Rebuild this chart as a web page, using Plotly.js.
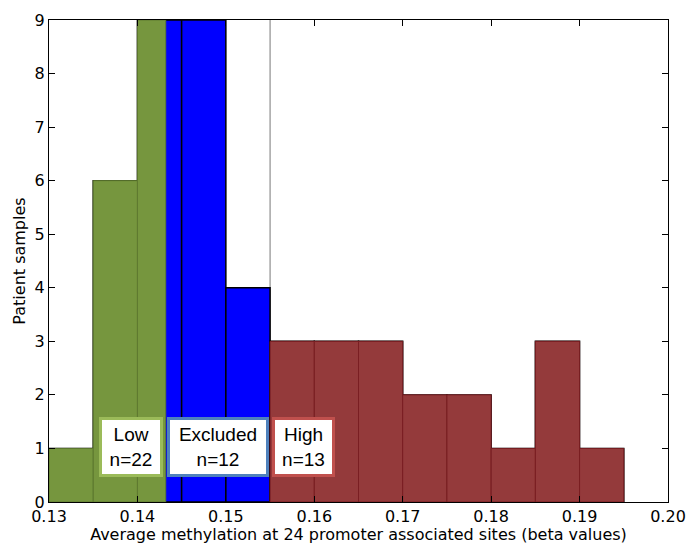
<!DOCTYPE html>
<html><head><meta charset="utf-8">
<script src="https://cdn.plot.ly/plotly-3.0.1.min.js"></script>
<style>body{margin:0;padding:0;background:#fff}#chart{width:688px;height:544px}</style>
</head><body><div id="chart"></div>
<script>
// Histogram bins (left edges) and counts
var binLeft = [0.130,0.135,0.140,0.145,0.150,0.155,0.160,0.165,0.170,0.175,0.180,0.185,0.190];
var counts  = [1,6,9,9,4,3,3,3,2,2,1,3,1];
var binWidth = 0.005;
// Group thresholds
var lowCut = 0.1432;
var highCut = 0.155;
// Group labels
var groupNames = ["Low","Excluded","High"];
var groupN = [22,12,13];
var labelX = [0.1393,0.1491,0.1588];
var labelY = 1.03;

function clipped(lo, hi){
  var xs=[],ws=[],ys=[];
  for(var i=0;i<binLeft.length;i++){
    var a=Math.max(binLeft[i],lo), b=Math.min(binLeft[i]+binWidth,hi);
    if(b-a>1e-9){xs.push((a+b)/2);ws.push(b-a);ys.push(counts[i]);}
  }
  return {x:xs,w:ws,y:ys};
}
var all = clipped(0,1);
var low = clipped(0,lowCut);
var high = clipped(highCut,1);

var traces = [
  {type:'bar',x:all.x,y:all.y,width:all.w,marker:{color:'#0000ff',line:{color:'#000000',width:1.5}},hoverinfo:'skip'},
  {type:'bar',x:low.x,y:low.y,width:low.w,marker:{color:'#76963e',line:{color:'#5e7a30',width:1}},hoverinfo:'skip'},
  {type:'bar',x:high.x,y:high.y,width:high.w,marker:{color:'#943a3b',line:{color:'#7a1e22',width:1}},hoverinfo:'skip'}
];

var borderCols = ['#9bbb59','#4f81bd','#c0504d'];
var boxW = [50,88,49];
var annotations = groupNames.map(function(g,i){
  return {x:labelX[i],y:labelY,xref:'x',yref:'y',text:g+'<br>n='+groupN[i],showarrow:false,
    font:{family:'Liberation Sans, Arial, sans-serif',size:19,color:'#000'},width:boxW[i],
    bgcolor:'#ffffff',bordercolor:borderCols[i],borderwidth:3,borderpad:4,align:'center'};
});

var layout = {
  width:688,height:544,
  margin:{l:49,r:20,t:20,b:42},
  paper_bgcolor:'#fff',plot_bgcolor:'#fff',
  barmode:'overlay',bargap:0,showlegend:false,
  font:{family:'DejaVu Sans, sans-serif',size:16,color:'#000'},
  xaxis:{range:[0.13,0.20],dtick:0.01,tick0:0.13,tickformat:'.2f',ticks:'inside',ticklen:6,tickcolor:'#000',
    showgrid:false,zeroline:false,showline:true,linecolor:'#000',linewidth:1,mirror:'ticks',
    title:{text:'Average methylation at 24 promoter associated sites (beta values)',standoff:2,font:{size:16}},
    tickfont:{size:16}},
  yaxis:{range:[0,9],dtick:1,ticks:'inside',ticklen:6,tickcolor:'#000',
    showgrid:false,zeroline:false,showline:true,linecolor:'#000',linewidth:1,mirror:'ticks',
    title:{text:'Patient samples',standoff:5,font:{size:16}},tickfont:{size:16}},
  shapes:[{type:'line',xref:'x',yref:'paper',x0:highCut,x1:highCut,y0:0,y1:1,layer:'below',line:{color:'#777',width:1}}],
  annotations:annotations
};
Plotly.newPlot('chart',traces,layout,{staticPlot:true});
</script></body></html>
